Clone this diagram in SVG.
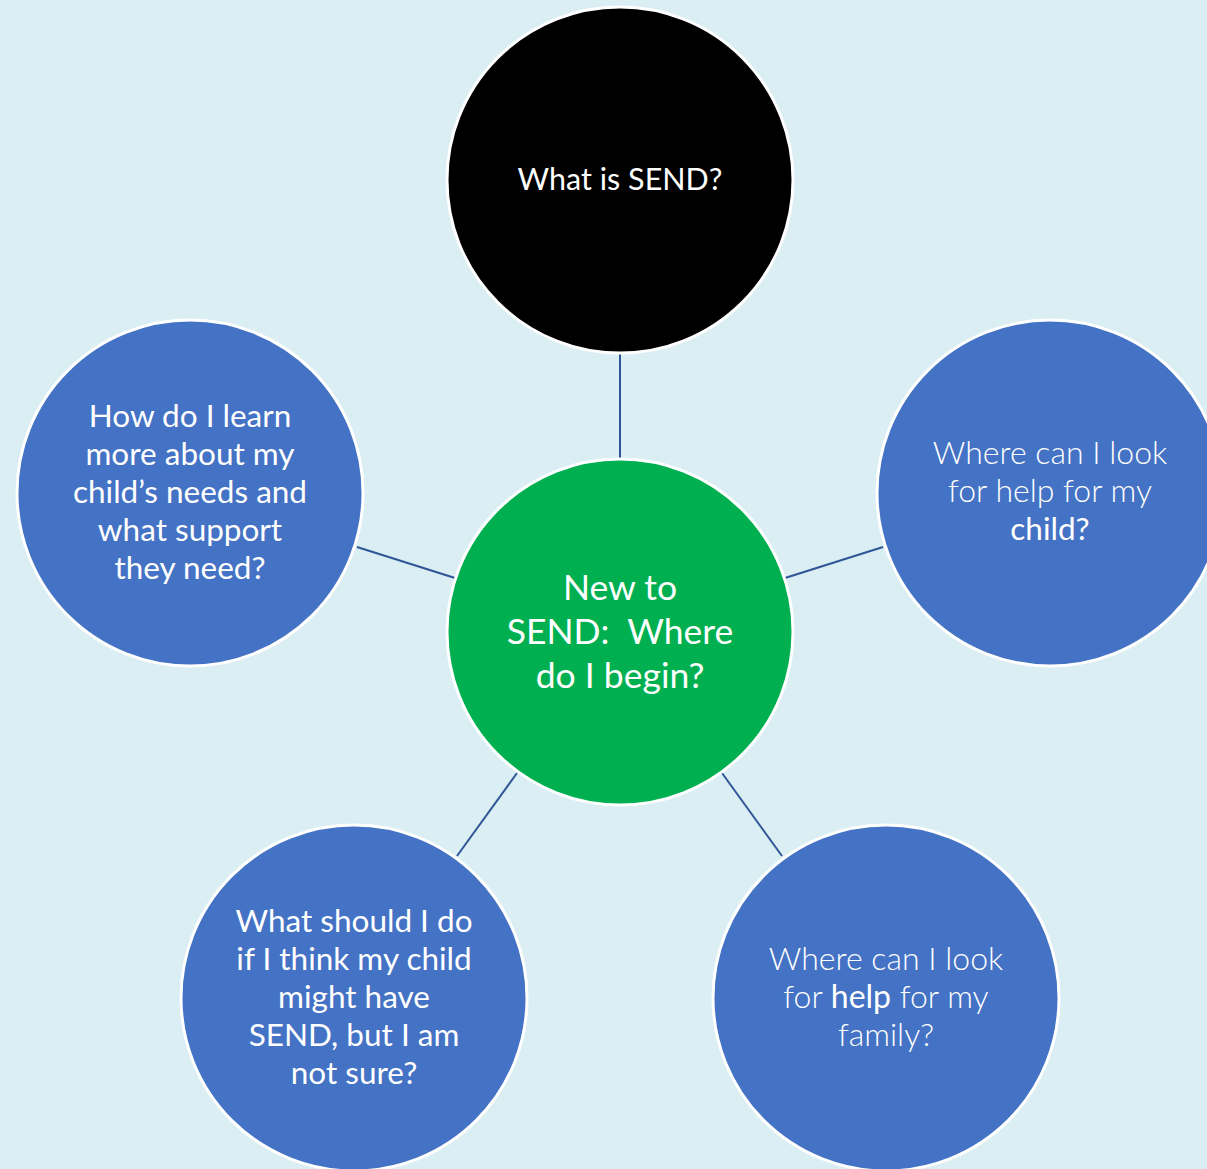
<svg xmlns="http://www.w3.org/2000/svg" width="1207" height="1169" viewBox="0 0 1207 1169">
<style>
.bg{fill:#DAEEF3}
.node{stroke:#FFFFFF;stroke-width:3}
.blue{fill:#4472C4}
.green{fill:#00B050}
.black{fill:#000000}
.conn line{stroke:#2F5597;stroke-width:2}
text{font-family:Lato,"Open Sans","Liberation Sans",sans-serif;fill:#FFFFFF;text-anchor:middle;font-size:31.5px}
.light{font-weight:300;font-size:32px}
.b{font-weight:400}
.big{font-size:35.5px}
.top{font-size:30.5px}
</style>
<rect class="bg" x="0" y="0" width="1207" height="1169"/>
<g id="connectors" class="conn">
<line x1="620" y1="353" x2="620" y2="460"/>
<line x1="357" y1="547" x2="455" y2="578"/>
<line x1="785" y1="578" x2="883" y2="547"/>
<line x1="517" y1="773" x2="457" y2="856"/>
<line x1="722" y1="773" x2="782" y2="856"/>
</g>
<g id="node-top">
<circle class="node black" cx="620" cy="180" r="173"/>
<text class="top" x="620" y="190">What is SEND?</text>
</g>
<g id="node-left">
<circle class="node blue" cx="190" cy="493" r="173"/>
<text x="190" y="427">How do I learn</text>
<text x="190" y="465">more about my</text>
<text x="190" y="503">child’s needs and</text>
<text x="190" y="541">what support</text>
<text x="190" y="579">they need?</text>
</g>
<g id="node-right">
<circle class="node blue" cx="1050" cy="493" r="173"/>
<text class="light" x="1050" y="464">Where can I look</text>
<text class="light" x="1050" y="502">for help for my</text>
<text x="1050" y="540">child?</text>
</g>
<g id="node-center">
<circle class="node green" cx="620" cy="632" r="173"/>
<text class="big" x="620" y="600">New to</text>
<text class="big" x="620" y="644" xml:space="preserve">SEND:  Where</text>
<text class="big" x="620" y="688">do I begin?</text>
</g>
<g id="node-bottom-left">
<circle class="node blue" cx="354" cy="998" r="173"/>
<text x="354" y="932">What should I do</text>
<text x="354" y="970">if I think my child</text>
<text x="354" y="1008">might have</text>
<text x="354" y="1046">SEND, but I am</text>
<text x="354" y="1084">not sure?</text>
</g>
<g id="node-bottom-right">
<circle class="node blue" cx="886" cy="998" r="173"/>
<text class="light" x="886" y="970">Where can I look</text>
<text class="light" x="886" y="1008">for <tspan class="b">help</tspan> for my</text>
<text class="light" x="886" y="1046">family?</text>
</g>
</svg>
